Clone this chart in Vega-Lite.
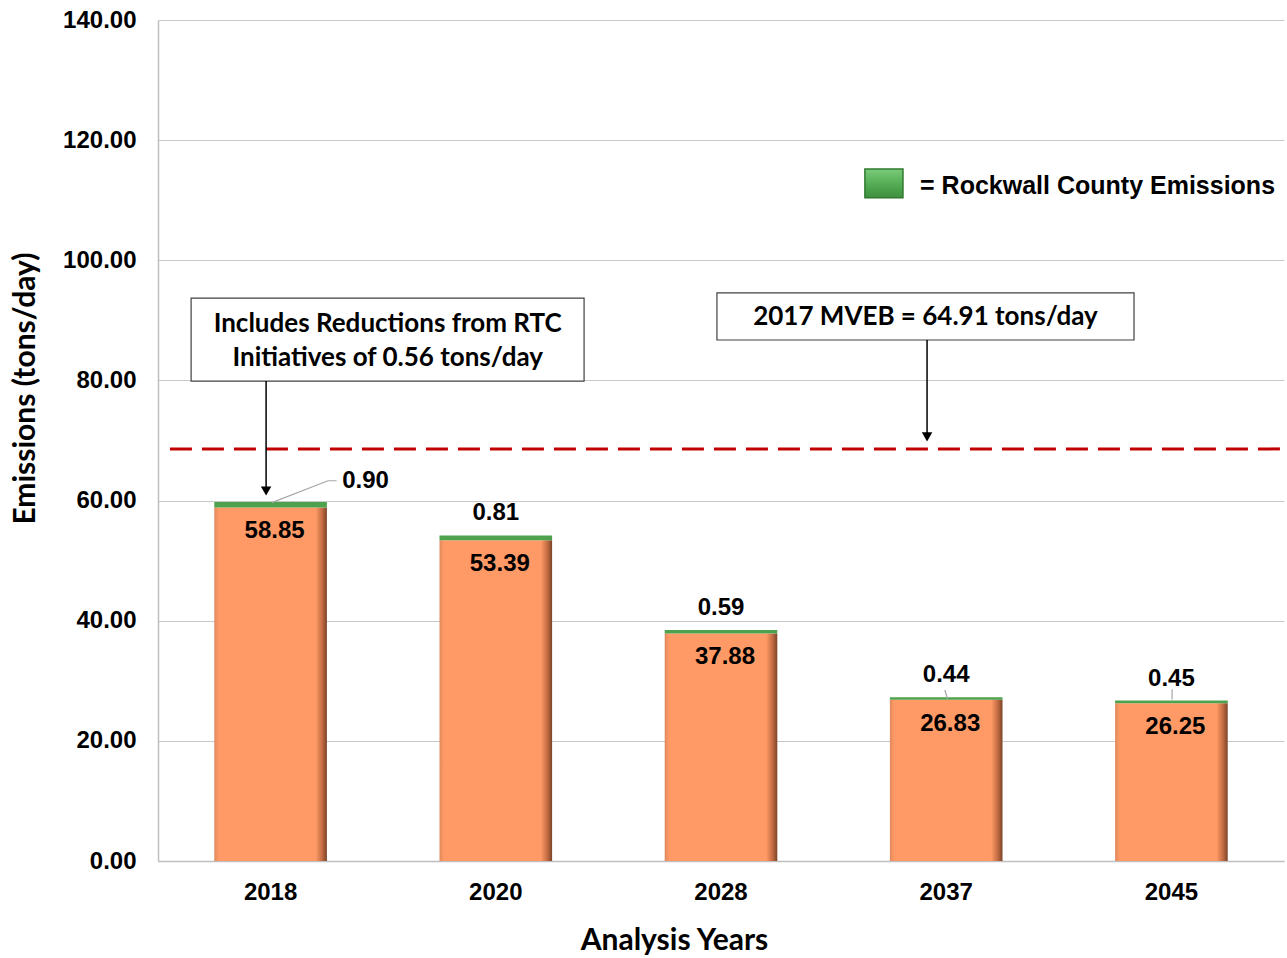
{
  "$schema": "https://vega.github.io/schema/vega-lite/v6.json",
  "width": 1126,
  "height": 841,
  "autosize": "none",
  "padding": {"left": 158, "top": 20, "right": 3, "bottom": 97},
  "background": "white",
  "config": {
    "view": {"stroke": null},
    "font": "Liberation Sans",
    "axis": {
      "labelFont": "Liberation Sans", "labelFontWeight": "bold", "labelFontSize": 24, "labelColor": "black",
      "titleFont": "Lato", "titleFontWeight": "bold", "titleFontSize": 30, "titleColor": "black",
      "domainColor": "#BFBFBF", "domainWidth": 1.5, "ticks": false, "gridColor": "#C8C8C8", "gridWidth": 1.2
    },
    "axisY": {"grid": true, "labelPadding": 22, "format": ".2f", "titleX": -133, "titleY": 368, "titleBaseline": "middle", "titleAlign": "center", "titleAngle": -90},
    "axisX": {"grid": false, "labelPadding": 19, "labelAngle": 0, "titleX": 516, "titleY": 79, "titleBaseline": "middle", "titleAlign": "center"}
  },
  "datasets": {
    "emissions": [
      {"year": "2018", "category": "Other", "value": 58.85},
      {"year": "2018", "category": "Rockwall County", "value": 0.90},
      {"year": "2020", "category": "Other", "value": 53.39},
      {"year": "2020", "category": "Rockwall County", "value": 0.81},
      {"year": "2028", "category": "Other", "value": 37.88},
      {"year": "2028", "category": "Rockwall County", "value": 0.59},
      {"year": "2037", "category": "Other", "value": 26.83},
      {"year": "2037", "category": "Rockwall County", "value": 0.44},
      {"year": "2045", "category": "Other", "value": 26.25},
      {"year": "2045", "category": "Rockwall County", "value": 0.45}
    ],
    "boxes": [
      {"x": 0.147, "x2": 1.892, "y": 93.7, "y2": 79.9},
      {"x": 2.482, "x2": 4.334, "y": 94.56, "y2": 86.73}
    ],
    "boxtext": [
      {"x": 1.02, "y": 89.4, "text": "Includes Reductions from RTC"},
      {"x": 1.02, "y": 83.7, "text": "Initiatives of 0.56 tons/day"},
      {"x": 3.408, "y": 90.56, "text": "2017 MVEB = 64.91 tons/day"}
    ],
    "mveb": [{"x": 0.053, "x2": 5, "y": 68.6}],
    "arrows": [
      {"x": 0.48, "y": 79.9, "y2": 61.8},
      {"x": 3.415, "y": 86.73, "y2": 70.8}
    ],
    "heads": [
      {"x": 0.48, "y": 61.6},
      {"x": 3.415, "y": 70.6}
    ],
    "leaders": [
      {"g": "a", "o": 1, "x": 0.505, "y": 59.65},
      {"g": "a", "o": 2, "x": 0.755, "y": 63.3},
      {"g": "a", "o": 3, "x": 0.793, "y": 63.3},
      {"g": "b", "o": 1, "x": 3.494, "y": 28.47},
      {"g": "b", "o": 2, "x": 3.506, "y": 26.97},
      {"g": "c", "o": 1, "x": 4.503, "y": 28.6},
      {"g": "c", "o": 2, "x": 4.503, "y": 26.9}
    ],
    "legendbox": [{"x": 3.139, "x2": 3.308, "y": 115.2, "y2": 110.4}],
    "legendtext": [{"x": 3.384, "y": 112.3, "text": "= Rockwall County Emissions"}]
  },
  "layer": [
    {
      "data": {"name": "emissions"},
      "transform": [
        {"stack": "value", "groupby": ["year"], "sort": [{"field": "category", "order": "ascending"}], "as": ["v0", "v1"]}
      ],
      "encoding": {
        "x": {"field": "year", "type": "nominal", "title": "Analysis Years",
              "scale": {"paddingInner": 0.5, "paddingOuter": 0.25}}
      },
      "layer": [
        {
          "transform": [{"filter": "datum.category === 'Other'"}],
          "mark": {"type": "bar",
            "color": {"gradient": "linear", "x1": 0, "x2": 1, "y1": 0, "y2": 0,
              "stops": [
                {"offset": 0, "color": "#E0895C"},
                {"offset": 0.04, "color": "#FF9A66"},
                {"offset": 0.9, "color": "#FF9A66"},
                {"offset": 0.96, "color": "#C06A42"},
                {"offset": 1, "color": "#7A4428"}
              ]}},
          "encoding": {
            "y": {"field": "v0", "type": "quantitative", "title": "Emissions (tons/day)", "scale": {"domain": [0, 140], "nice": false},
                  "axis": {"values": [0, 20, 40, 60, 80, 100, 120, 140]}},
            "y2": {"field": "v1"}
          }
        },
        {
          "transform": [{"filter": "datum.category === 'Rockwall County'"}],
          "mark": {"type": "bar", "color": "#4EA24E"},
          "encoding": {
            "y": {"field": "v0", "type": "quantitative", "title": "Emissions (tons/day)", "axis": {"values": [0, 20, 40, 60, 80, 100, 120, 140]}},
            "y2": {"field": "v1"}
          }
        },
        {
          "transform": [{"filter": "datum.category === 'Other'"}],
          "mark": {"type": "text", "font": "Liberation Sans", "fontWeight": "bold", "fontSize": 24, "color": "black", "dy": 24, "dx": 4, "baseline": "middle"},
          "encoding": {
            "y": {"field": "v1", "type": "quantitative", "title": "Emissions (tons/day)", "axis": {"values": [0, 20, 40, 60, 80, 100, 120, 140]}},
            "text": {"field": "value", "type": "quantitative", "format": ".2f"}
          }
        },
        {
          "transform": [{"filter": "datum.category === 'Rockwall County' && datum.year !== '2018'"}],
          "mark": {"type": "text", "font": "Liberation Sans", "fontWeight": "bold", "fontSize": 24, "color": "black", "dy": -22, "baseline": "middle"},
          "encoding": {
            "y": {"field": "v1", "type": "quantitative", "title": "Emissions (tons/day)", "axis": {"values": [0, 20, 40, 60, 80, 100, 120, 140]}},
            "text": {"field": "value", "type": "quantitative", "format": ".2f"}
          }
        },
        {
          "transform": [{"filter": "datum.category === 'Rockwall County' && datum.year === '2018'"}],
          "mark": {"type": "text", "font": "Liberation Sans", "fontWeight": "bold", "fontSize": 24, "color": "black", "dy": -21, "dx": 95, "baseline": "middle"},
          "encoding": {
            "y": {"field": "v1", "type": "quantitative", "title": "Emissions (tons/day)", "axis": {"values": [0, 20, 40, 60, 80, 100, 120, 140]}},
            "text": {"field": "value", "type": "quantitative", "format": ".2f"}
          }
        }
      ]
    },
    {
      "layer": [
        {
          "data": {"name": "mveb"},
          "mark": {"type": "rule", "color": "#C00000", "strokeWidth": 3, "strokeDash": [22, 10]},
          "encoding": {
            "x": {"field": "x", "type": "quantitative", "scale": {"domain": [0, 5], "nice": false, "zero": false}, "axis": null},
            "x2": {"field": "x2"},
            "y": {"field": "y", "type": "quantitative", "title": "Emissions (tons/day)", "axis": {"values": [0, 20, 40, 60, 80, 100, 120, 140]}}
          }
        },
        {
          "data": {"name": "boxes"},
          "mark": {"type": "rect", "fill": "white", "stroke": "#404040", "strokeWidth": 1.2},
          "encoding": {
            "x": {"field": "x", "type": "quantitative", "axis": null},
            "x2": {"field": "x2"},
            "y": {"field": "y", "type": "quantitative", "title": "Emissions (tons/day)", "axis": {"values": [0, 20, 40, 60, 80, 100, 120, 140]}},
            "y2": {"field": "y2"}
          }
        },
        {
          "data": {"name": "boxtext"},
          "mark": {"type": "text", "font": "Lato", "fontWeight": "bold", "fontSize": 26, "color": "black", "baseline": "middle", "align": "center"},
          "encoding": {
            "x": {"field": "x", "type": "quantitative", "axis": null},
            "y": {"field": "y", "type": "quantitative", "title": "Emissions (tons/day)", "axis": {"values": [0, 20, 40, 60, 80, 100, 120, 140]}},
            "text": {"field": "text"}
          }
        },
        {
          "data": {"name": "arrows"},
          "mark": {"type": "rule", "color": "black", "strokeWidth": 1.5},
          "encoding": {
            "x": {"field": "x", "type": "quantitative", "axis": null},
            "y": {"field": "y", "type": "quantitative", "title": "Emissions (tons/day)", "axis": {"values": [0, 20, 40, 60, 80, 100, 120, 140]}},
            "y2": {"field": "y2"}
          }
        },
        {
          "data": {"name": "heads"},
          "mark": {"type": "point", "shape": "triangle-down", "filled": true, "color": "black", "size": 110, "opacity": 1},
          "encoding": {
            "x": {"field": "x", "type": "quantitative", "axis": null},
            "y": {"field": "y", "type": "quantitative", "title": "Emissions (tons/day)", "axis": {"values": [0, 20, 40, 60, 80, 100, 120, 140]}}
          }
        },
        {
          "data": {"name": "leaders"},
          "mark": {"type": "line", "color": "#A6A6A6", "strokeWidth": 1.2},
          "encoding": {
            "x": {"field": "x", "type": "quantitative", "axis": null},
            "y": {"field": "y", "type": "quantitative", "title": "Emissions (tons/day)", "axis": {"values": [0, 20, 40, 60, 80, 100, 120, 140]}},
            "detail": {"field": "g"},
            "order": {"field": "o"}
          }
        },
        {
          "data": {"name": "legendbox"},
          "mark": {"type": "rect", "stroke": "#2F7A2F", "strokeWidth": 1.5,
            "fill": {"gradient": "linear", "x1": 0, "x2": 0, "y1": 0, "y2": 1,
              "stops": [{"offset": 0, "color": "#7CCB7C"}, {"offset": 0.5, "color": "#55AE55"}, {"offset": 1, "color": "#3E8F3E"}]}},
          "encoding": {
            "x": {"field": "x", "type": "quantitative", "axis": null},
            "x2": {"field": "x2"},
            "y": {"field": "y", "type": "quantitative", "title": "Emissions (tons/day)", "axis": {"values": [0, 20, 40, 60, 80, 100, 120, 140]}},
            "y2": {"field": "y2"}
          }
        },
        {
          "data": {"name": "legendtext"},
          "mark": {"type": "text", "font": "Liberation Sans", "fontWeight": "bold", "fontSize": 25, "color": "black", "baseline": "middle", "align": "left"},
          "encoding": {
            "x": {"field": "x", "type": "quantitative", "axis": null},
            "y": {"field": "y", "type": "quantitative", "title": "Emissions (tons/day)", "axis": {"values": [0, 20, 40, 60, 80, 100, 120, 140]}},
            "text": {"field": "text"}
          }
        }
      ]
    }
  ],
  "resolve": {"scale": {"x": "independent"}}
}
